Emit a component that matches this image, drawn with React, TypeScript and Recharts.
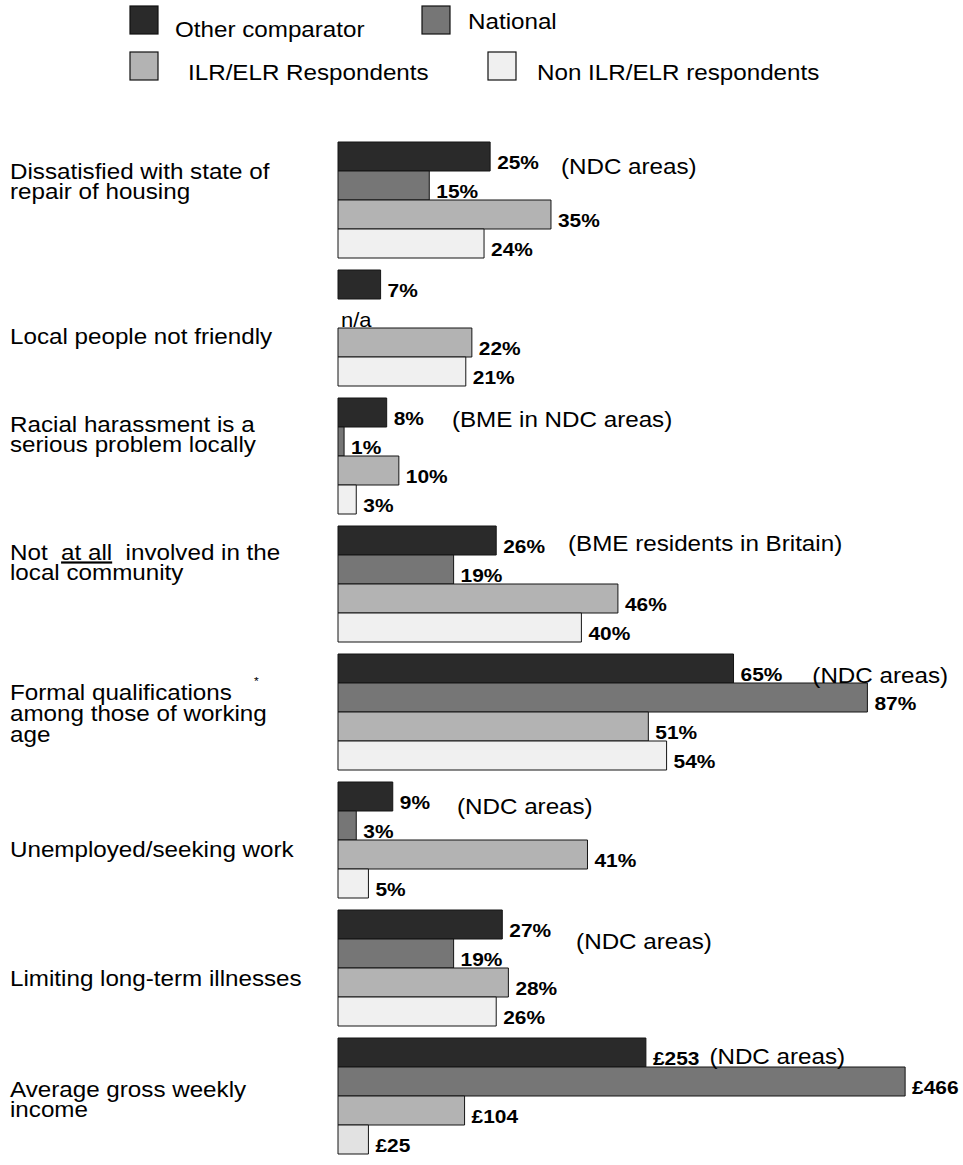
import React from 'react';
import { BarChart, Bar, XAxis, YAxis, LabelList, Legend, Cell } from 'recharts';

// ---------- data ----------
const categories = [
  'Dissatisfied with state of repair of housing',
  'Local people not friendly',
  'Racial harassment is a serious problem locally',
  'Not at all involved in the local community',
  'Formal qualifications among those of working age',
  'Unemployed/seeking work',
  'Limiting long-term illnesses',
  'Average gross weekly income',
];
const categoryLines = [
  ['Dissatisfied with state of', 'repair of housing'],
  ['Local people not friendly'],
  ['Racial harassment is a', 'serious problem locally'],
  ['Not  at all  involved in the', 'local community'],
  ['Formal qualifications', 'among those of working', 'age'],
  ['Unemployed/seeking work'],
  ['Limiting long-term illnesses'],
  ['Average gross weekly', 'income'],
];
const seriesNames = ['Other comparator', 'National', 'ILR/ELR Respondents', 'Non ILR/ELR respondents'];
const otherComparator = [25, 7, 8, 26, 65, 9, 27, 253];
const national = [15, null, 1, 19, 87, 3, 19, 466];
const ilrElr = [35, 22, 10, 46, 51, 41, 28, 104];
const nonIlrElr = [24, 21, 3, 40, 54, 5, 26, 25];
const units = ['%', '%', '%', '%', '%', '%', '%', '£'];
const notes = ['(NDC areas)', '', '(BME in NDC areas)', '(BME residents in Britain)', '(NDC areas)', '(NDC areas)', '(NDC areas)', '(NDC areas)'];

// £ values share the % axis at one fifth of their value
const INCOME_SCALE = 5;

// ---------- layout / style ----------
const W = 963;
const H = 1165;
const FONT = '"Liberation Sans", Arial, Helvetica, sans-serif';
const SX = 1.1;
const COLORS = ['#2a2a2a', '#767676', '#b3b3b3', '#f0f0f0'];
const INCOME_LIGHT = '#e2e2e2';
const labelDy = [-19.5, 7.5, -22.5, -22.5, 0.5, 8.5, 9.5, 2.5];
const noteGap = [22, 0, 28, 23, 30, 27, 25, 10];
const noteDy = [32, 0, 29, 25, 29, 32, 39, 26];

const keys = ['oc', 'nat', 'ilr', 'non'];
const seriesValues = [otherComparator, national, ilrElr, nonIlrElr];

const data = categories.map((name, i) => {
  const row: any = { name, idx: i };
  keys.forEach((k, s) => {
    const v = seriesValues[s][i];
    row[k] = v == null ? null : units[i] === '£' ? v / INCOME_SCALE : v;
  });
  return row;
});

const fmt = (v: number, unit: string) => (unit === '£' ? `£${v}` : `${v}%`);
const boldW: Record<string, number> = { '%': 0.889, '£': 0.556 };
const labelWidth = (s: string, size: number) =>
  s.split('').reduce((a, c) => a + (boldW[c] ?? 0.556), 0) * size * SX;

const VAL_SIZE = 19;
const CAT_SIZE = 22;
const NOTE_SIZE = 22;
const LEG_SIZE = 22;

const T = ({ x, y, size, weight, children }: any) => (
  <text
    transform={`translate(${x},${y}) scale(${SX},1)`}
    fontFamily={FONT}
    fontSize={size}
    fontWeight={weight || 'normal'}
    fill="#000"
    xmlSpace="preserve"
    style={{ whiteSpace: 'pre' }}
  >
    {children}
  </text>
);

const makeLabel = (s: number) => (props: any) => {
  const vb = props.viewBox || props;
  const { x, y, width, height } = vb;
  const i = Number(props.value);
  const v = seriesValues[s][i];
  const out: any[] = [];
  if (v != null) {
    const txt = fmt(v, units[i]);
    const lx = x + width + 7;
    out.push(
      <T key="v" x={lx} y={y + height - 2} size={VAL_SIZE} weight="bold">
        {txt}
      </T>
    );
    if (s === 0 && notes[i]) {
      out.push(
        <T key="n" x={lx + labelWidth(txt, VAL_SIZE) + noteGap[i]} y={y + noteDy[i]} size={NOTE_SIZE}>
          {notes[i]}
        </T>
      );
    }
  }
  if (s === 0 && national[i] == null) {
    out.push(
      <T key="na" x={x + 3} y={y + 2 * height - 1} size={20}>
        n/a
      </T>
    );
  }
  return <g>{out}</g>;
};

const CategoryTick = (props: any) => {
  const { y, payload } = props;
  const i = payload && payload.index != null ? payload.index : categories.indexOf(payload.value);
  const lines = categoryLines[i];
  const LH = 21;
  const center = y + labelDy[i];
  const first = center - ((lines.length - 1) * LH) / 2 + 8;
  return (
    <g>
      <T x={10} y={first} size={CAT_SIZE}>
        {lines.map((ln, k) => {
          const dy = k === 0 ? 0 : LH;
          if (i === 3 && k === 0) {
            return (
              <tspan key={k} x={0} dy={dy}>
                {'Not  '}
                <tspan textDecoration="underline" style={{ textDecoration: 'underline' }}>at all</tspan>
                {'  involved in the'}
              </tspan>
            );
          }
          return (
            <tspan key={k} x={0} dy={dy}>
              {ln}
            </tspan>
          );
        })}
      </T>
      {i === 4 ? (
        <T x={254} y={first - 15} size={11}>
          *
        </T>
      ) : null}
    </g>
  );
};

const legendPos = [
  { sx: 130, sy: 6, tx: 175, ty: 37 },
  { sx: 422, sy: 6, tx: 468, ty: 29 },
  { sx: 130, sy: 52, tx: 188, ty: 80 },
  { sx: 488, sy: 52, tx: 537, ty: 80 },
];

const LegendContent = () => (
  <svg width={W} height={95} style={{ display: 'block' }}>
    {seriesNames.map((n, s) => {
      const p = legendPos[s];
      return (
        <g key={n}>
          <rect x={p.sx} y={p.sy} width={28} height={28} fill={COLORS[s]} stroke="#111" strokeWidth={1.2} />
          <T x={p.tx} y={p.ty} size={LEG_SIZE}>
            {n}
          </T>
        </g>
      );
    })}
  </svg>
);

export default function App() {
  return (
    <div style={{ position: 'absolute', left: 0, top: 0, width: W, height: H, background: '#fff' }}>
      <BarChart
        width={W}
        height={H}
        data={data}
        layout="vertical"
        margin={{ top: 136.5, right: 16.5, bottom: 4.5, left: 0 }}
        barCategoryGap={5.5}
        barGap={0}
      >
        <XAxis type="number" domain={[0, 100]} hide />
        <YAxis
          type="category"
          dataKey="name"
          width={338}
          axisLine={false}
          tickLine={false}
          interval={0}
          tick={<CategoryTick />}
        />
        <Legend
          layout="horizontal"
          verticalAlign="middle"
          align="center"
          content={<LegendContent />}
          wrapperStyle={{ left: 0, top: 0, width: W, height: 95 }}
        />
        {keys.map((k, s) => (
          <Bar
            key={k}
            dataKey={k}
            name={seriesNames[s]}
            fill={COLORS[s]}
            stroke="#151515"
            strokeWidth={1}
            isAnimationActive={false}
          >
            {data.map((d, i) => (
              <Cell key={i} fill={s === 3 && units[i] === '£' ? INCOME_LIGHT : COLORS[s]} />
            ))}
            <LabelList dataKey="idx" content={makeLabel(s)} />
          </Bar>
        ))}
      </BarChart>
    </div>
  );
}
